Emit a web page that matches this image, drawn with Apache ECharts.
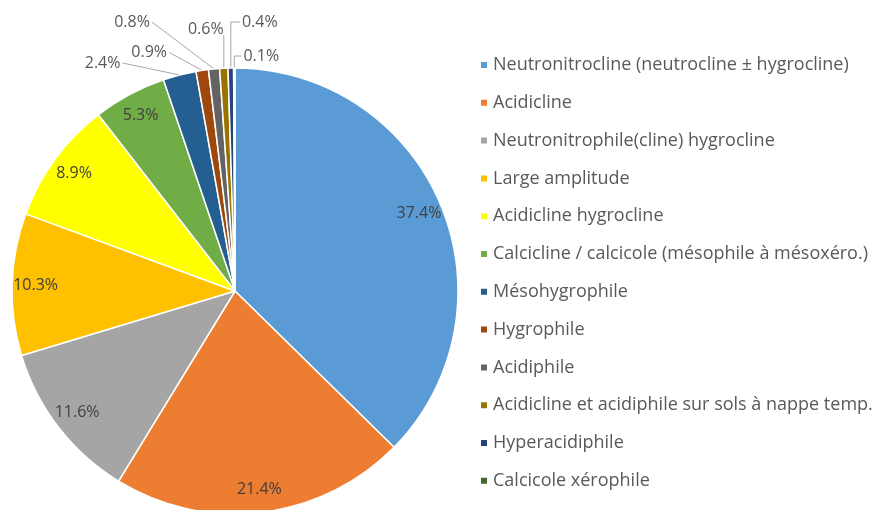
<!DOCTYPE html>
<html lang="fr">
    <head>
        <meta charset="utf-8">
        <script src="https://cdn.jsdelivr.net/npm/echarts@6/dist/echarts.min.js"></script>
        <title>Répartition</title>
        <style>
            html, body { margin: 0; padding: 0; background: #fff; }
            #pie { width: 876px; height: 510px; }
        </style>
    </head>
    <body>
        <div id="pie"></div>
        <script>
            // categories, dans l'ordre du graphique
            var categories = [
                'Neutronitrocline (neutrocline ± hygrocline)',
                'Acidicline',
                'Neutronitrophile(cline) hygrocline',
                'Large amplitude',
                'Acidicline hygrocline',
                'Calcicline / calcicole (mésophile à mésoxéro.)',
                'Mésohygrophile',
                'Hygrophile',
                'Acidiphile',
                'Acidicline et acidiphile sur sols à nappe temp.',
                'Hyperacidiphile',
                'Calcicole xérophile'
            ];
            // pourcentages
            var percents = [37.4, 21.4, 11.6, 10.3, 8.9, 5.3, 2.4, 0.9, 0.8, 0.6, 0.4, 0.1];
            var colors = ['#5B9BD5', '#ED7D31', '#A5A5A5', '#FFC000', '#FFFF00', '#70AD47',
                          '#255E91', '#9E480E', '#636363', '#997300', '#264478', '#43682B'];

            var center = [235, 291];
            var R = 223;
            var font = 'Open Sans';

            // decalage des petites etiquettes (par rapport au bord de la part)
            var smallPlace = {
                6:  [-77, -12, 'left'],
                7:  [-53, -18, 'left'],
                8:  [-82, -47, 'left'],
                9:  [-18, -39, 'up'],
                10: [29, -46, 'right'],
                11: [27, -12, 'right']
            };

            function fmt(p) {
                return p.value.toFixed(1) + '%';
            }

            var mainData = categories.map(function(name, i) {
                return {
                    name: name,
                    value: percents[i],
                    itemStyle: { color: colors[i] },
                    label: { show: percents[i] < 5 },
                    labelLine: { show: percents[i] < 5 }
                };
            });
            // serie transparente pour placer les etiquettes pres du bord
            var labelData = categories.map(function(name, i) {
                return {
                    name: name,
                    value: percents[i],
                    label: { show: percents[i] >= 5 }
                };
            });

            var chart = echarts.init(document.getElementById('pie'));
            chart.setOption({
                animation: false,
                color: colors,
                legend: {
                    orient: 'vertical',
                    left: 474,
                    top: 50,
                    itemWidth: 8,
                    itemHeight: 8,
                    itemGap: 17.8,
                    icon: 'rect',
                    data: categories,
                    textStyle: {
                        fontFamily: font,
                        fontSize: 18,
                        color: '#595959',
                        lineHeight: 20
                    }
                },
                series: [{
                    type: 'pie',
                    center: center,
                    radius: [0, R],
                    startAngle: 90,
                    clockwise: true,
                    avoidLabelOverlap: false,
                    itemStyle: {
                        borderColor: '#fff',
                        borderWidth: 1.5
                    },
                    label: {
                        position: 'outside',
                        formatter: fmt,
                        fontFamily: font,
                        fontSize: 16,
                        color: '#595959'
                    },
                    labelLine: {
                        length: 10,
                        length2: 10,
                        lineStyle: { color: '#A6A6A6', width: 1 }
                    },
                    labelLayout: function(params) {
                        var p = smallPlace[params.dataIndex];
                        if (!p || !params.labelLinePoints) return;
                        var a = params.labelLinePoints[0];
                        var w = params.labelRect.width, h = params.labelRect.height;
                        var cx = a[0] + p[0], cy = a[1] + p[1];
                        var pts;
                        if (p[2] === 'left') {
                            pts = [a, [cx + w / 2 + 2, cy], [cx + w / 2 + 2, cy]];
                        } else if (p[2] === 'right') {
                            pts = [a, [a[0], cy], [cx - w / 2 - 2, cy]];
                        } else {
                            pts = [a, [a[0], cy + h / 2 - 2], [a[0], cy + h / 2 - 2]];
                        }
                        return {
                            x: cx, y: cy,
                            align: 'center', verticalAlign: 'middle',
                            labelLinePoints: pts
                        };
                    },
                    data: mainData
                }, {
                    type: 'pie',
                    silent: true,
                    center: center,
                    radius: [170, 223],
                    startAngle: 90,
                    clockwise: true,
                    itemStyle: { color: 'transparent' },
                    label: {
                        position: 'inside',
                        formatter: fmt,
                        fontFamily: font,
                        fontSize: 16,
                        color: '#404040'
                    },
                    labelLine: { show: false },
                    data: labelData
                }]
            });
        </script>
    </body>
</html>
